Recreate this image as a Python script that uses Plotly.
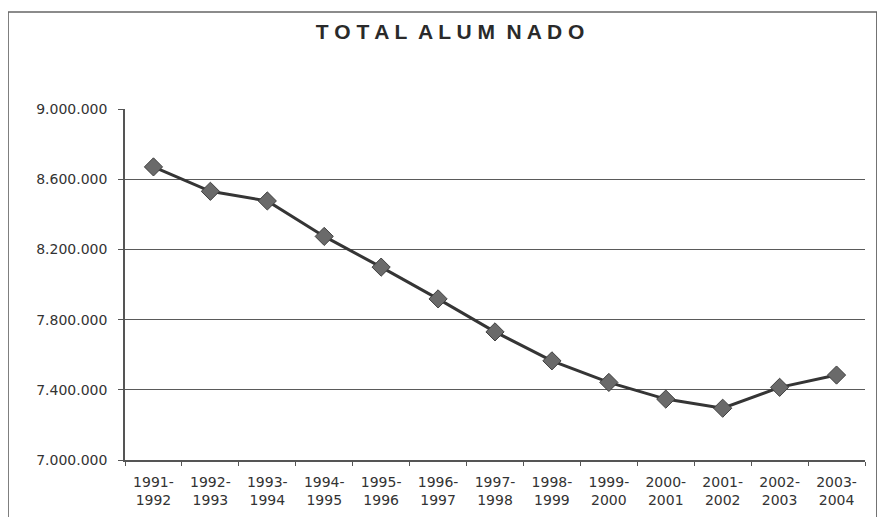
import plotly.graph_objects as go

categories = ["1991-<br>1992", "1992-<br>1993", "1993-<br>1994", "1994-<br>1995", "1995-<br>1996",
              "1996-<br>1997", "1997-<br>1998", "1998-<br>1999", "1999-<br>2000", "2000-<br>2001",
              "2001-<br>2002", "2002-<br>2003", "2003-<br>2004"]
total_alumnado = [8670000, 8531000, 8476000, 8274000, 8099000, 7918000, 7730000,
                  7565000, 7442000, 7347000, 7295000, 7414000, 7484000]
y_ticks = [7000000, 7400000, 7800000, 8200000, 8600000, 9000000]
y_tick_labels = ["7.000.000", "7.400.000", "7.800.000", "8.200.000", "8.600.000", "9.000.000"]

W, H = 877, 509  # page body has an 8px margin

fig = go.Figure()
fig.add_trace(go.Scatter(
    x=categories, y=total_alumnado, mode="lines+markers",
    line=dict(color="#353535", width=3),
    marker=dict(symbol="diamond", size=14, color="#6a6a6a", line=dict(color="#404040", width=1)),
    showlegend=False, hoverinfo="skip",
))

fig.update_layout(
    width=W, height=H,
    margin=dict(l=117, r=20, t=101, b=57),
    paper_bgcolor="white", plot_bgcolor="white",
    title=dict(text="<b>T O T A L  A L U M  N A D O</b>", x=442 / W, xref="container", xanchor="center",
               y=1 - 24 / H, yref="container", yanchor="middle",
               font=dict(family="Liberation Sans, Arial", size=21, color="#2a2a2a")),
    font=dict(family="DejaVu Sans", size=14, color="#333333"),
    xaxis=dict(type="category", showgrid=False, showline=True, linecolor="#555555", linewidth=1.5,
               ticks="outside", ticklen=4, tickcolor="#555555", tickson="boundaries",
               tickfont=dict(size=14, color="#333333"), ticklabelstandoff=8, range=[-0.5, 12.5],
               automargin=False),
    yaxis=dict(range=[7000000, 9000000], tickvals=y_ticks, ticktext=y_tick_labels,
               showgrid=True, gridcolor="#5a5a5a", gridwidth=1.2,
               showline=True, linecolor="#555555", linewidth=1.5,
               ticks="outside", ticklen=5, tickcolor="#555555", ticklabelstandoff=8,
               tickfont=dict(size=14, color="#333333"), zeroline=False, automargin=False),
    shapes=[dict(type="rect", xref="paper", yref="paper", x0=-0.158, x1=1.016, y0=-0.25, y1=1.276,
                 line=dict(color="#666666", width=1.5), layer="below")],
)

fig.write_html("out.html")
